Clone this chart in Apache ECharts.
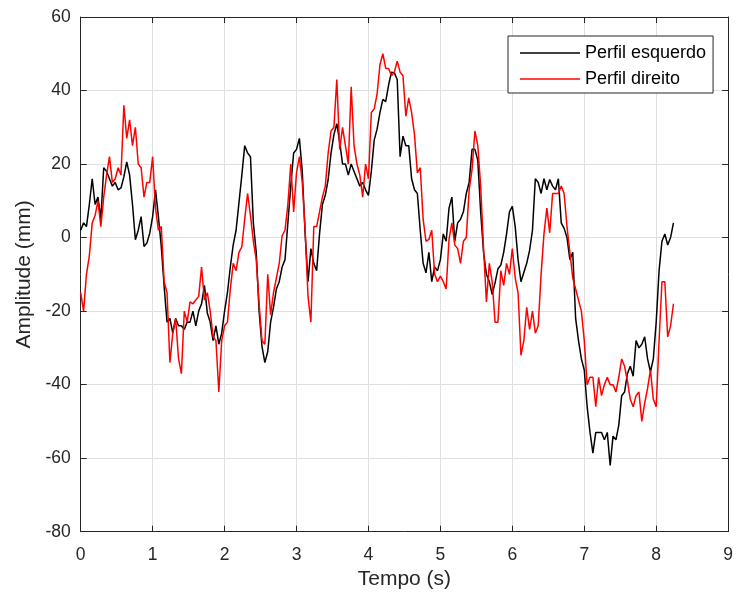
<!DOCTYPE html>
<html>
<head>
<meta charset="utf-8">
<script src="https://cdn.jsdelivr.net/npm/echarts@6/dist/echarts.min.js"></script>
<style>
html,body{margin:0;padding:0;background:#fff;}
#chart{width:736px;height:597px;}
</style>
</head>
<body>
<div id="chart"></div>
<script>
// Sampling step of the two profiles (seconds)
var timeStep = 0.04;

// Perfil esquerdo (black), mm, one value per sample starting at t = 0
var leftValues = [
 2, 4, 3, 9, 16, 9, 11, 5, 19, 18,
 16, 14, 15, 13, 13.5, 16.5, 20.6, 17, 9, -0.6,
 2, 5.7, -2.4, -1.5, 1.2, 5.7, 13, 5.7, -2.4, -13.3,
 -23, -22, -26, -22, -24, -24, -25, -23, -23, -20,
 -24, -20, -18, -13, -20.5, -23, -28, -24, -29, -26,
 -20, -15, -8, -2, 2, 9.5, 17, 25, 23, 22,
 4, -4, -20, -29.6, -34, -31, -23, -19, -14, -12,
 -8, -6, 4, 14, 23, 24, 27, 18, 1, -12,
 -3, -7, -9, 1, 9, 11.5, 15.8, 23, 28, 31,
 26, 20, 20, 17, 20, 18, 16, 14, 15, 13,
 11.5, 18, 26.5, 29.5, 34, 37.6, 37, 41.5, 45, 44.8,
 43, 22, 27.6, 25, 25, 16, 13, 12, 2, -7,
 -9.6, -4, -12, -8, -9, -6, 1, -1, 8, 11,
 -1, 4, 5, 7, 12, 15, 24, 24, 21, 7,
 -4, -10, -12, -15.5, -12.3, -8.5, -7.5, -4, 1, 7,
 8.5, 3, -6, -12, -9.5, -7, -3.5, 2, 16, 15,
 12, 16, 13, 15.8, 14, 13, 16, 4, 2.5, 0,
 -6, -4, -22, -28, -33, -36, -46, -53, -58.6, -53,
 -53, -53, -55, -53, -62, -54, -55, -51, -43, -42,
 -37, -35, -37.7, -28, -30, -29, -27, -33, -36.5, -33,
 -23, -9, -1, 1, -2, 0, 4
];

// Perfil direito (red), mm, one value per sample starting at t = 0
var rightValues = [
 -15, -20, -10, -5, 4, 6, 10, 3, 11, 17,
 22, 15, 16, 19, 17, 36, 27, 32, 25, 30,
 20, 19, 11, 15, 15, 22, 8, 2, 3, -12,
 -15, -34, -26, -22, -33, -37, -20, -23, -17.5, -18,
 -17, -16, -8, -17, -15, -20, -27, -28, -42, -28,
 -24, -23, -14, -7, -9, -4, -2.5, 5, 12, 6,
 -1, -6, -18, -28, -29, -10, -21, -15, -11, -7,
 0.5, 2, 9, 20, 7, 17.6, 22, 15, 2, -16,
 -23, 3, 3, 7, 11, 14, 23, 29, 30, 43,
 24, 30, 25, 20, 41, 25, 20, 17, 11, 20,
 16, 34, 35, 39, 47, 50, 46, 46, 44, 45,
 48, 45, 44, 33, 38, 34, 28, 17.6, 19, 5,
 -1, -0.5, 2, -10, -12, -10.5, -12, -14, -0.5, 4,
 -2, -3, -7, -1, 0, 13, 18.5, 29, 25, 14,
 -3, -17.5, -7, -12, -23, -23, -9, -13, -7, -10,
 -3, -11, -15, -32, -28, -19, -25, -20, -26, -24,
 -10, 1, 8, 1.3, 12, 12, 12, 14, 12, 3,
 -4, -11, -14, -17, -20, -28, -40, -38, -38, -46,
 -38, -43, -40, -38, -40, -40, -42, -38, -33, -35,
 -39, -44, -46, -43, -42, -50, -45, -41, -36, -44,
 -46, -28, -12, -12, -27, -24, -18
];

var seriesNames = ['Perfil esquerdo', 'Perfil direito'];
var xTicks = {min: 0, max: 9, interval: 1};
var yTicks = {min: -80, max: 60, interval: 20};

function pairs(values) {
  var out = [];
  for (var i = 0; i < values.length; i++) {
    out.push([+(i * timeStep).toFixed(4), values[i]]);
  }
  return out;
}

var FONT = "'Liberation Sans', Arial, sans-serif";
var AX = '#262626';
var GRID = '#dfdfdf';

var chart = echarts.init(document.getElementById('chart'), null, {renderer: 'canvas'});

function baseAxis(extra) {
  var a = {
    type: 'value',
    axisLine: {show: true, onZero: false, lineStyle: {color: AX, width: 1}},
    axisTick: {show: true, inside: true, length: 6, lineStyle: {color: AX, width: 1}},
    splitLine: {show: false},
    axisLabel: {show: false}
  };
  for (var k in extra) a[k] = extra[k];
  return a;
}

chart.setOption({
  animation: false,
  backgroundColor: '#ffffff',
  grid: {left: 80.7, right: 3.3, top: 17, bottom: 65.3, containLabel: false},
  legend: {
    orient: 'vertical',
    left: 508,
    top: 36,
    padding: [8, 7, 5, 12],
    itemGap: 8,
    itemWidth: 60,
    itemHeight: 1.5,
    icon: 'rect',
    backgroundColor: '#ffffff',
    borderColor: AX,
    borderWidth: 1,
    borderRadius: 0,
    data: seriesNames,
    textStyle: {fontFamily: FONT, fontSize: 18, color: '#000', lineHeight: 18}
  },
  xAxis: [
    baseAxis({
      min: xTicks.min, max: xTicks.max, interval: xTicks.interval,
      position: 'bottom',
      name: 'Tempo (s)', nameLocation: 'middle', nameGap: 37,
      nameTextStyle: {fontFamily: FONT, fontSize: 21, color: AX},
      splitLine: {show: true, lineStyle: {color: GRID, width: 1}},
      axisLabel: {show: true, margin: 14, fontFamily: FONT, fontSize: 17.5, color: AX}
    }),
    baseAxis({
      min: xTicks.min, max: xTicks.max, interval: xTicks.interval,
      position: 'top'
    })
  ],
  yAxis: [
    baseAxis({
      min: yTicks.min, max: yTicks.max, interval: yTicks.interval,
      position: 'left',
      name: 'Amplitude (mm)', nameLocation: 'middle', nameGap: 46,
      nameTextStyle: {fontFamily: FONT, fontSize: 21, color: AX},
      splitLine: {show: true, lineStyle: {color: GRID, width: 1}},
      axisLabel: {show: true, margin: 10, fontFamily: FONT, fontSize: 17.5, color: AX}
    }),
    baseAxis({
      min: yTicks.min, max: yTicks.max, interval: yTicks.interval,
      position: 'right'
    })
  ],
  series: [
    {
      name: seriesNames[0], type: 'line', data: pairs(leftValues),
      xAxisIndex: 0, yAxisIndex: 0,
      showSymbol: false, symbol: 'none', smooth: false,
      lineStyle: {color: '#000000', width: 1.5},
      itemStyle: {color: '#000000'},
      z: 2
    },
    {
      name: seriesNames[1], type: 'line', data: pairs(rightValues),
      xAxisIndex: 0, yAxisIndex: 0,
      showSymbol: false, symbol: 'none', smooth: false,
      lineStyle: {color: '#ff0000', width: 1.5},
      itemStyle: {color: '#ff0000'},
      z: 3
    }
  ]
});
</script>
</body>
</html>
